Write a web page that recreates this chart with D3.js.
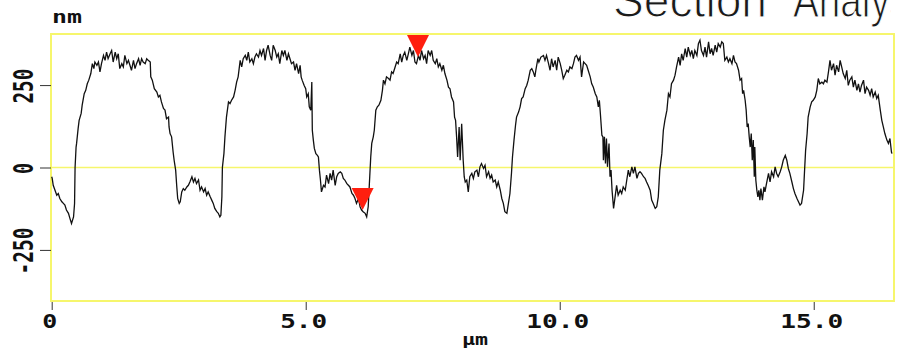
<!DOCTYPE html>
<html>
<head>
<meta charset="utf-8">
<script src="https://cdn.jsdelivr.net/npm/d3@7"></script>
<style>
  html, body { margin: 0; padding: 0; background: #fff; }
  svg { display: block; }
</style>
</head>
<body>
<svg id="chart" width="899" height="354"></svg>
<script>
// ---- data (µm along the section, height in nm) ----
const positions = [
  0.00,0.01,0.03,0.065,0.10,0.13,0.16,0.20,0.23,0.26,
  0.29,0.33,0.36,0.39,0.43,0.45,0.46,0.48,0.49,0.52,
  0.54,0.58,0.60,0.64,0.67,0.70,0.73,0.77,0.80,0.83,
  0.85,0.89,0.92,0.95,0.98,1.02,1.05,1.08,1.11,1.15,
  1.18,1.21,1.25,1.28,1.31,1.34,1.38,1.41,1.44,1.48,
  1.51,1.54,1.57,1.61,1.64,1.67,1.71,1.74,1.77,1.80,
  1.84,1.87,1.90,1.94,1.95,1.98,2.02,2.07,2.10,2.13,
  2.16,2.20,2.23,2.26,2.30,2.31,2.33,2.36,2.39,2.41,
  2.44,2.46,2.48,2.51,2.53,2.56,2.59,2.62,2.66,2.69,
  2.72,2.76,2.79,2.82,2.85,2.89,2.92,2.95,2.99,3.02,
  3.05,3.08,3.12,3.15,3.18,3.21,3.25,3.28,3.31,3.33,
  3.35,3.36,3.39,3.41,3.44,3.48,3.51,3.54,3.58,3.61,
  3.64,3.67,3.71,3.74,3.77,3.81,3.84,3.87,3.90,3.94,
  3.97,4.00,
  4.03,4.07,4.10,4.13,4.17,4.20,4.23,4.26,4.30,4.33,
  4.36,4.40,4.43,4.46,4.49,4.53,4.56,4.59,4.63,4.66,
  4.69,4.72,4.76,4.79,4.82,4.86,4.89,4.91,4.93,4.97,
  5.00,5.02,5.05,5.07,5.10,5.12,5.13,5.15,5.17,5.20,
  5.23,5.25,5.27,5.29,5.31,5.35,5.38,5.41,5.45,5.48,
  5.51,5.54,5.58,5.61,5.64,5.68,5.71,5.74,5.77,5.81,
  5.84,5.87,5.91,5.94,5.97,6.00,6.04,6.07,6.10,6.13,
  6.17,6.20,6.23,6.25,6.28,6.30,6.33,6.35,6.38,6.41,
  6.44,6.48,6.51,6.53,6.56,6.59,6.63,6.66,6.69,6.72,
  6.76,6.79,6.82,6.86,6.89,6.92,6.95,6.99,7.02,7.05,
  7.09,7.12,7.15,7.18,7.22,7.25,7.28,7.32,7.35,7.38,
  7.41,7.45,7.48,7.51,7.55,7.58,7.61,7.64,7.68,7.71,
  7.74,7.78,7.81,7.84,7.87,7.91,7.93,7.95,7.97,7.99,
  8.02,8.04,8.07,8.10,8.12,
  8.14,8.17,8.20,8.23,8.27,8.30,8.33,8.37,8.40,8.43,
  8.46,8.50,8.53,8.56,8.60,8.63,8.66,8.69,8.73,8.76,
  8.79,8.83,8.86,8.89,8.92,8.96,8.99,9.02,9.05,9.07,
  9.10,9.13,9.15,9.19,9.22,9.25,9.28,9.32,9.35,9.38,
  9.42,9.45,9.48,9.51,9.53,9.57,9.59,9.63,9.68,9.71,
  9.74,9.78,9.81,9.84,9.87,9.91,9.94,9.97,10.01,10.04,
  10.07,10.10,10.14,10.17,10.20,10.24,10.27,10.30,10.33,10.37,
  10.40,10.43,10.47,10.50,10.53,10.56,10.60,10.63,10.66,10.70,
  10.73,10.76,10.78,10.80,10.83,10.85,10.86,10.88,10.90,10.92,
  10.94,10.97,10.99,11.01,11.03,11.06,11.09,11.12,11.15,11.19,
  11.22,11.25,11.29,11.32,11.35,11.38,11.42,11.45,11.48,11.52,
  11.55,11.58,11.61,11.65,11.68,11.71,11.74,11.78,11.81,11.84,
  11.88,11.91,11.94,11.97,12.01,12.04,12.07,12.11,12.14,12.17,
  12.20,12.24,12.27,
  12.30,12.34,12.37,12.40,12.43,12.47,12.50,12.53,12.57,12.60,
  12.63,12.66,12.70,12.73,12.76,12.79,12.83,12.86,12.89,12.93,
  12.96,12.99,13.02,13.06,13.09,13.12,13.16,13.19,13.22,13.25,
  13.29,13.32,13.35,13.39,13.42,13.45,13.48,13.52,13.55,13.58,
  13.60,13.62,13.65,13.67,13.69,13.71,13.73,13.75,13.77,13.79,
  13.81,13.83,13.84,13.86,13.88,13.90,13.92,13.94,13.96,13.99,
  14.02,14.04,14.07,14.11,14.14,14.17,14.21,14.24,14.27,14.30,
  14.34,14.37,14.40,14.44,14.47,14.50,14.53,14.57,14.60,14.63,
  14.67,14.70,14.73,14.76,14.80,14.82,14.84,14.87,14.89,14.93,
  14.96,14.99,15.03,15.06,15.09,15.12,15.16,15.19,15.22,15.26,
  15.29,15.32,15.35,15.39,15.42,15.45,15.49,15.52,15.55,15.58,
  15.62,15.65,15.68,15.71,15.75,15.78,15.81,15.85,15.88,15.91,
  15.94,15.98,16.01,16.04,16.08,16.11,16.14,16.17,16.21,16.24,
  16.27,16.31,16.34,16.37,16.40,16.44,16.47,16.50,16.53,16.54
];
const heights = [
  -28,-33,-54,-69,-84,-79,-94,-104,-109,-114,
  -129,-139,-155,-170,-150,-109,0,62,73,118,
  143,164,189,224,234,254,265,285,315,300,
  320,310,320,290,315,340,325,350,330,345,
  355,320,350,330,345,300,315,305,340,315,
  325,310,295,325,300,315,330,310,330,320,
  315,330,325,320,275,265,239,229,214,219,
  199,179,174,148,153,123,103,93,47,22,
  -8,-54,-94,-109,-104,-74,-64,-69,-59,-54,
  -44,-28,-44,-33,-49,-38,-69,-59,-74,-64,
  -84,-74,-89,-99,-109,-124,-134,-139,-150,-145,
  -89,0,42,93,153,199,194,204,214,234,
  259,275,325,305,330,340,325,350,320,330,
  315,335,
  345,335,355,340,361,325,355,371,340,325,
  371,355,335,345,315,355,340,355,325,345,
  330,315,320,295,315,285,310,275,265,249,
  239,214,224,184,174,259,113,83,58,42,
  37,32,-8,-38,-74,-54,-59,-23,-49,-18,
  -38,-8,-54,-28,-18,-13,-18,-33,-38,-49,
  -54,-59,-79,-84,-94,-109,-94,-119,-129,-134,
  -139,-150,-119,-59,32,73,93,113,174,184,
  189,204,234,265,254,275,270,265,290,285,
  305,320,315,345,320,340,350,325,345,365,
  340,355,320,315,340,325,355,330,340,315,
  355,340,355,325,315,330,305,315,295,310,
  285,265,244,239,214,199,153,143,93,32,
  123,22,133,22,-28,
  -44,-38,-74,-28,-18,-33,-13,-8,-28,2,
  12,-3,7,-28,-13,-33,-23,-44,-38,-59,
  -44,-69,-94,-109,-134,-139,-109,-79,-18,32,
  83,128,153,168,184,209,214,239,249,265,
  295,300,290,275,295,330,320,335,340,325,
  340,315,295,330,305,325,295,335,315,295,
  270,280,295,290,305,300,315,335,340,325,
  335,275,320,315,310,295,275,254,244,224,
  214,184,204,164,98,93,22,93,12,88,
  2,73,-28,-8,-69,-124,-89,-54,-84,-69,
  -79,-59,-69,-38,-8,-28,2,-18,2,-33,
  -18,-13,-18,-28,-33,-44,-54,-69,-99,-109,
  -124,-119,-89,-8,42,113,143,174,224,214,
  254,265,280,
  305,335,310,345,325,361,335,365,340,355,
  330,355,340,376,386,355,340,365,335,381,
  345,361,340,371,350,376,365,381,376,325,
  335,320,330,315,340,320,315,295,265,270,
  224,234,204,174,123,133,93,62,103,22,
  83,-28,62,-38,-69,-89,-69,-99,-64,-99,
  -59,-74,-49,-18,-44,-13,-28,2,-18,-28,
  -13,2,22,37,22,-3,-18,-44,-64,-79,
  -94,-104,-114,-109,-69,-8,52,103,153,184,
  199,204,214,234,270,254,259,254,265,259,
  290,325,295,315,280,310,290,325,305,285,
  270,295,249,265,275,244,265,234,254,229,
  249,265,224,244,234,219,239,214,229,209,
  219,174,143,123,103,83,73,88,47,42
];
// marked points (red cursors)
const markerPositions = [7.21, 6.12];
const markerHeights = [335, -129];
// axes
const xTicks = [0, 5, 10, 15];
const xTickLabels = ["0", "5.0", "10.0", "15.0"];
const yTicks = [-250, 0, 250];
const yTickLabels = ["-250", "0", "250"];
const xDomain = [0, 16.58];
const yDomain = [-405, 405];
const titleWords = ["Section", "Analysis"];

if (positions.length !== heights.length) {
  throw new Error("length mismatch " + positions.length + " vs " + heights.length);
}

const svg = d3.select("#chart");
const W = 899, H = 354;
svg.append("rect").attr("width", W).attr("height", H).attr("fill", "#fff");

const plot = { left: 51.7, right: 894, top: 34, bottom: 301 };
const x = d3.scaleLinear().domain(xDomain).range([plot.left, plot.right]);
const y = d3.scaleLinear().domain(yDomain).range([plot.bottom, plot.top]);

const frameColor = "#f6f66c";

// title (its top is cut by the page edge, as in the original screenshot)
svg.append("defs").append("clipPath").attr("id", "titleClip")
  .append("rect").attr("x", 0).attr("y", 0).attr("width", 891).attr("height", H);
const titleG = svg.append("g").attr("clip-path", "url(#titleClip)");
const titleStyle = sel => sel
  .attr("font-family", "'Liberation Sans', Arial, sans-serif")
  .attr("font-size", 48)
  .attr("fill", "#1a1a1a")
  .attr("stroke", "#fff")
  .attr("stroke-width", 1.1)
  .attr("lengthAdjust", "spacingAndGlyphs");
titleG.append("text").call(titleStyle)
  .attr("x", 613).attr("y", 17)
  .attr("textLength", 154)
  .text(titleWords[0]);
titleG.append("text").call(titleStyle)
  .attr("x", 793).attr("y", 17)
  .attr("textLength", 144)
  .text(titleWords[1]);

// frame
svg.append("rect")
  .attr("x", plot.left - 0.7).attr("y", plot.top)
  .attr("width", plot.right - plot.left + 0.7).attr("height", plot.bottom - plot.top)
  .attr("fill", "none").attr("stroke", frameColor).attr("stroke-width", 2);

// zero line
svg.append("line")
  .attr("x1", plot.left).attr("x2", plot.right)
  .attr("y1", y(0)).attr("y2", y(0))
  .attr("stroke", frameColor).attr("stroke-width", 1.6);

// y ticks
const yAxis = d3.axisLeft(y).tickValues(yTicks).tickSize(11).tickFormat("");
const gy = svg.append("g").attr("transform", `translate(${plot.left - 0.7},0)`).call(yAxis);
gy.select(".domain").remove();
gy.selectAll(".tick line").attr("stroke", "#333").attr("stroke-width", 1);

// x ticks
const xAxis = d3.axisBottom(x).tickValues(xTicks).tickSize(8).tickFormat("");
const gx = svg.append("g").attr("transform", `translate(0,${plot.bottom + 1})`).call(xAxis);
gx.select(".domain").remove();
gx.selectAll(".tick line").attr("stroke", "#333").attr("stroke-width", 1);

const monoFont = "'DejaVu Sans Mono', 'Liberation Mono', monospace";

// x tick labels
svg.append("g").selectAll("text").data(xTicks).join("text")
  .attr("x", d => x(d) - 2)
  .attr("y", 328)
  .attr("text-anchor", "middle")
  .attr("font-family", monoFont).attr("font-weight", "bold")
  .attr("font-size", 20)
  .attr("fill", "#111")
  .attr("textLength", (d, i) => 16 * xTickLabels[i].length - 1)
  .attr("lengthAdjust", "spacingAndGlyphs")
  .text((d, i) => xTickLabels[i]);

// y tick labels (rotated)
svg.append("g").selectAll("text").data(yTicks).join("text")
  .attr("transform", d => `translate(33,${y(d) + 1}) rotate(-90)`)
  .attr("text-anchor", "middle")
  .attr("font-family", monoFont).attr("font-weight", "bold")
  .attr("font-size", 27)
  .attr("fill", "#111")
  .attr("textLength", (d, i) => 12 * yTickLabels[i].length - 1)
  .attr("lengthAdjust", "spacingAndGlyphs")
  .text((d, i) => yTickLabels[i]);

// unit labels
svg.append("text")
  .attr("x", 52).attr("y", 23)
  .attr("font-family", monoFont).attr("font-weight", "bold")
  .attr("font-size", 18).attr("fill", "#111")
  .attr("textLength", 30).attr("lengthAdjust", "spacingAndGlyphs")
  .text("nm");
svg.append("text")
  .attr("x", 462).attr("y", 345)
  .attr("font-family", monoFont).attr("font-weight", "bold")
  .attr("font-size", 15).attr("fill", "#111")
  .attr("textLength", 26).attr("lengthAdjust", "spacingAndGlyphs")
  .text("µm");

// profile line
const line = d3.line()
  .x((d, i) => x(positions[i]))
  .y((d, i) => y(heights[i]));
svg.append("path")
  .datum(heights)
  .attr("d", line)
  .attr("fill", "none")
  .attr("stroke", "#111")
  .attr("stroke-width", 1.3)
  .attr("stroke-linejoin", "miter");

// red cursor triangles (tip at the marked point)
const tri = 22;
svg.append("g").selectAll("path").data(markerPositions).join("path")
  .attr("d", (d, i) => {
    const px = x(d), py = y(markerHeights[i]);
    return `M${px - tri / 2},${py - tri}L${px + tri / 2},${py - tri}L${px},${py}Z`;
  })
  .attr("fill", "#ff1f0f");
</script>
</body>
</html>
